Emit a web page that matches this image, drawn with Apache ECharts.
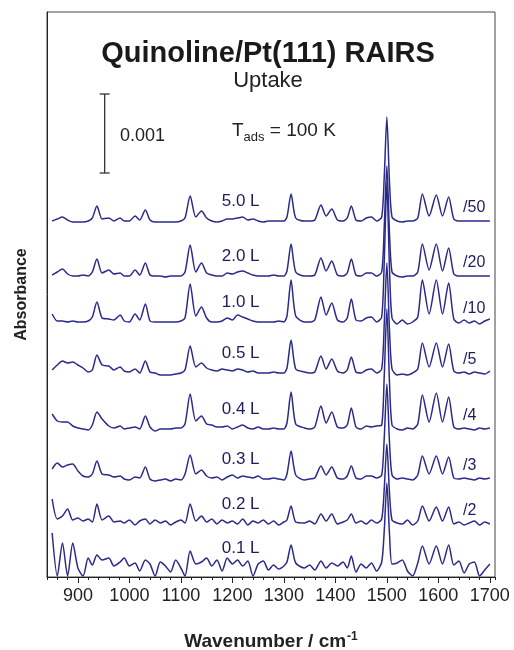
<!DOCTYPE html>
<html>
<head>
<meta charset="utf-8">
<script src="https://cdn.jsdelivr.net/npm/echarts@6/dist/echarts.min.js"></script>
<style>
  html, body { margin: 0; padding: 0; background: #fff; }
  #chart { width: 514px; height: 650px; }
</style>
</head>
<body>
<div id="chart"></div>
<script>
// wavenumber grid (cm-1) shared by all spectra
var wn = [850, 860, 870, 880, 890, 900, 910, 920, 928, 937,
  947, 960, 970, 982, 990, 1000, 1011, 1020, 1031, 1040,
  1050, 1060, 1070, 1080, 1090, 1100, 1108, 1118, 1129, 1140,
  1150, 1160, 1170, 1180, 1190, 1200, 1210, 1220, 1230, 1240,
  1250, 1260, 1270, 1280, 1290, 1300, 1306, 1314, 1323, 1340,
  1350, 1360, 1372, 1382, 1393, 1404, 1415, 1423, 1431, 1440,
  1450, 1460, 1470, 1480, 1490, 1495, 1500, 1505, 1510, 1520,
  1530, 1540, 1550, 1560, 1569, 1582, 1596, 1608, 1620, 1630,
  1640, 1650, 1660, 1670, 1680, 1690, 1700];

var exposures = ['5.0 L', '2.0 L', '1.0 L', '0.5 L', '0.4 L', '0.3 L', '0.2 L', '0.1 L'];
var divisors = ['/50', '/20', '/10', '/5', '/4', '/3', '/2', ''];
// vertical offset of each trace (display units, 78 units = 0.001)
var offsets = [356, 301, 255, 204, 148, 98, 53, 9];

var s50 = [0, 2, 4, 1, -1, -1, -1, 0, 3, 15,
  2, 3, 0, 3, 0, 0, 5, 1, 11, 1,
  -1, -1, -1, -1, -1, 0, 3, 25, 4, 10,
  3, 0, -1, 0, 2, 2, 3, 4, 1, 2,
  0, -1, 0, 0, 0, 0, 4, 27, 3, 0,
  0, 1, 16, 5, 12, 1, 0, 3, 15, 1,
  0, 3, 4, 0, 4, 45, 104, 40, 4, 0,
  -1, 0, 0, 3, 27, 5, 26, 5, 24, 2,
  0, 0, 0, 0, 0, 0, 0];
var s20 = [1, 4, 7, 2, 0, 0, 1, 0, 4, 17,
  3, 6, 2, 3, 0, 0, 6, 1, 13, 1,
  0, 0, -1, 0, 0, 0, 4, 31, 4, 13,
  3, 1, 0, 0, 3, 2, 4, 5, 3, 1,
  0, 0, 0, 1, 0, 0, 5, 32, 4, 0,
  0, 1, 18, 5, 15, 1, 0, 3, 17, 1,
  0, 3, 3, 0, 4, 50, 110, 44, 4, 0,
  -1, 0, 0, 4, 32, 6, 32, 5, 28, 2,
  0, 0, 0, 0, 0, 0, 0];
var s10 = [8, 1, 1, 0, 1, 0, 0, 1, 5, 20,
  4, 3, 2, 7, 1, 0, 8, 2, 18, 1,
  0, 0, 0, 0, 0, 1, 4, 38, 6, 15,
  4, 0, 0, 1, 4, 2, 7, 5, 3, 1,
  0, 0, 0, 0, 1, 0, 6, 42, 6, 0,
  0, 2, 25, 7, 19, 2, 0, 4, 23, 2,
  1, 4, 5, 0, 5, 62, 140, 55, 4, -2,
  2, -2, 0, 5, 42, 8, 42, 8, 39, 3,
  -1, 2, -1, 1, -2, 1, 3];
var s05 = [3, 8, 12, 10, 11, 8, 5, 1, 3, 18,
  8, 7, 3, 6, 2, 1, 4, 0, 12, 1,
  0, -2, -2, -2, -1, 0, 3, 27, 6, 10,
  5, 3, 2, 4, 3, 2, 4, 3, 1, 2,
  0, 0, 0, 1, 0, 0, 5, 33, 4, 1,
  0, 1, 17, 4, 14, 2, 0, 3, 16, 1,
  0, 3, 4, 0, 4, 50, 110, 44, 4, -2,
  -1, -2, 0, 4, 30, 6, 30, 6, 29, 2,
  0, 1, -1, 1, 0, -1, 2];
var s04 = [15, 8, 7, 7, 3, 1, 0, -1, 4, 17,
  10, 3, 1, 3, 0, 1, 2, 0, 13, 2,
  -2, 0, 0, 0, 1, 1, 5, 35, 8, 13,
  5, 4, 2, 2, 3, 0, 2, 4, 1, 0,
  2, 0, 0, 1, 0, 0, 6, 37, 5, 1,
  0, 2, 23, 6, 17, 2, 1, 4, 21, 2,
  0, 3, 2, 3, 4, 54, 120, 48, 4, 0,
  -1, 1, 0, 5, 34, 7, 36, 7, 32, 2,
  0, 1, 0, -1, 1, 0, 1];
var s03 = [10, 16, 12, 14, 15, 8, 3, 2, 5, 18,
  5, 4, 2, 3, 0, -1, 2, 1, 12, 0,
  -2, -1, 0, -2, 0, -1, 5, 24, 5, 9,
  3, 1, 2, -1, 2, 4, 1, 3, 2, 1,
  3, 0, 0, 1, 0, -1, 5, 28, 4, -1,
  0, 1, 13, 4, 12, 1, 0, 3, 13, 1,
  0, 3, 3, 1, 4, 42, 95, 38, 4, 0,
  1, 0, -1, 4, 23, 5, 23, 5, 22, 1,
  0, 1, 0, -1, 1, 0, 1];
var s02 = [25, 5, 8, 15, 4, 6, 3, 5, 2, 20,
  4, 8, 2, 3, 1, 4, -1, 3, 5, 0,
  4, 1, 3, -1, 2, 4, 1, 20, 3, 8,
  2, 5, 0, 4, 1, 3, 0, 5, -1, 3,
  1, 4, 0, 3, -1, 2, 4, 18, 2, 1,
  3, 0, 10, 3, 10, 0, 2, 4, 10, 1,
  3, 0, 4, 1, 5, 36, 80, 32, 4, 1,
  0, 4, -1, 3, 18, 3, 17, 3, 17, 0,
  2, -1, 1, 3, -1, 2, 0];
var s01 = [35, -8, 25, -8, 25, 0, -8, 10, 3, 13,
  8, 10, 2, 6, 10, 2, 5, -3, 8, 4,
  -8, 6, 2, -4, 8, 0, -8, 17, 4, 6,
  10, 2, 8, -3, 10, 4, 8, 2, 7, -8,
  4, 7, -2, 3, -1, 2, 6, 23, 5, 0,
  3, -2, 7, 0, 5, 2, 6, 0, 12, -4,
  4, 0, 5, -3, 6, 38, 85, 35, 4, 5,
  8, -3, -8, 5, 22, 4, 22, 4, 23, 3,
  7, -5, 4, 6, -8, -2, 4];
var spectra = [s50, s20, s10, s05, s04, s03, s02, s01];

var xMajor = [900, 1000, 1100, 1200, 1300, 1400, 1500, 1600, 1700];
// scale bar: wavenumber position, bottom and top (display units)
var scaleBar = [[952, 404, 483]];

var lineColor = '#2a2a8c';
var labelColor = '#1c1c60';
var font = 'Liberation Sans, Arial, sans-serif';

var chart = echarts.init(document.getElementById('chart'));

var series = [];
spectra.forEach(function (vals, k) {
  series.push({
    name: exposures[k],
    type: 'line',
    showSymbol: false,
    symbol: 'none',
    smooth: 0.25,
    lineStyle: { color: lineColor, width: 1.5 },
    data: wn.map(function (w, i) { return [w, offsets[k] + vals[i]]; }),
    z: 3
  });
  series.push({
    type: 'scatter',
    symbolSize: 1,
    itemStyle: { color: 'rgba(0,0,0,0)' },
    silent: true,
    label: {
      show: true, position: 'inside', color: labelColor, opacity: 1,
      fontFamily: font, fontSize: 17,
      formatter: function (p) { return p.data[2]; }
    },
    data: [[1216, offsets[k] + 20, exposures[k]]]
  });
  if (divisors[k]) {
    series.push({
      type: 'scatter',
      symbolSize: 1,
      itemStyle: { color: 'rgba(0,0,0,0)' },
      silent: true,
      label: {
        show: true, position: 'right', distance: 0, color: labelColor, opacity: 1,
        fontFamily: font, fontSize: 16,
        formatter: function (p) { return p.data[2]; }
      },
      data: [[1647, offsets[k] + 13, divisors[k]]]
    });
  }
});

series.push({
  type: 'custom',
  silent: true,
  data: scaleBar,
  renderItem: function (params, api) {
    var bot = api.coord([api.value(0), api.value(1)]);
    var top = api.coord([api.value(0), api.value(2)]);
    var st = { stroke: '#333', lineWidth: 1.3 };
    return {
      type: 'group',
      children: [
        { type: 'line', shape: { x1: top[0], y1: top[1], x2: bot[0], y2: bot[1] }, style: st },
        { type: 'line', shape: { x1: top[0] - 5, y1: top[1], x2: top[0] + 5, y2: top[1] }, style: st },
        { type: 'line', shape: { x1: bot[0] - 5, y1: bot[1], x2: bot[0] + 5, y2: bot[1] }, style: st }
      ]
    };
  }
});

chart.setOption({
  animation: false,
  textStyle: { fontFamily: font },
  grid: {
    left: 47, right: 19, top: 12, bottom: 73,
    outerBoundsMode: 'none',
    containLabel: false,
    show: true, borderColor: '#444', borderWidth: 1
  },
  xAxis: [{
    type: 'value',
    min: 840, max: 1710, interval: 20,
    axisLine: { lineStyle: { color: '#222', width: 1 } },
    axisTick: { length: 3, lineStyle: { color: '#222' } },
    axisLabel: {
      color: '#222', fontSize: 18, margin: 10,
      formatter: function (v) { return v % 100 === 0 ? String(v) : ''; }
    },
    splitLine: { show: false },
    name: 'Wavenumber / cm{sup|-1}',
    nameLocation: 'middle',
    nameGap: 54,
    nameTextStyle: {
      color: '#222', fontSize: 19, fontWeight: 'bold',
      rich: { sup: { fontSize: 12, fontWeight: 'bold', verticalAlign: 'top', padding: [0, 0, 10, 1] } }
    }
  }, {
    type: 'value',
    min: 840, max: 1710,
    position: 'bottom',
    axisLine: { show: false },
    axisTick: { show: true, length: 6, customValues: xMajor, lineStyle: { color: '#222' } },
    axisLabel: { show: false },
    splitLine: { show: false }
  }],
  yAxis: {
    type: 'value',
    min: 0, max: 565,
    axisLine: { show: true, lineStyle: { color: '#222' } },
    axisTick: { show: false },
    axisLabel: { show: false },
    splitLine: { show: false },
    name: 'Absorbance',
    nameLocation: 'middle',
    nameGap: 17,
    nameTextStyle: { color: '#222', fontSize: 16, fontWeight: 'bold' }
  },
  graphic: [
    { type: 'text', x: 268, y: 54,
      style: { text: 'Quinoline/Pt(111) RAIRS', fontSize: 29, fontWeight: 'bold', fill: '#1a1a1a',
        fontFamily: font, align: 'center', verticalAlign: 'middle' } },
    { type: 'text', x: 268, y: 81,
      style: { text: 'Uptake', fontSize: 22, fill: '#222', fontFamily: font, align: 'center', verticalAlign: 'middle' } },
    { type: 'text', x: 120, y: 136,
      style: { text: '0.001', fontSize: 18, fill: '#222', fontFamily: font, verticalAlign: 'middle' } },
    { type: 'text', x: 232, y: 131,
      style: {
        text: 'T{sub|ads} = 100 K', fontSize: 19, fill: '#222', fontFamily: font, verticalAlign: 'middle',
        rich: { sub: { fontSize: 13, fill: '#222', padding: [13, 0, 0, 0] } }
      } }
  ],
  series: series
});
</script>
</body>
</html>
